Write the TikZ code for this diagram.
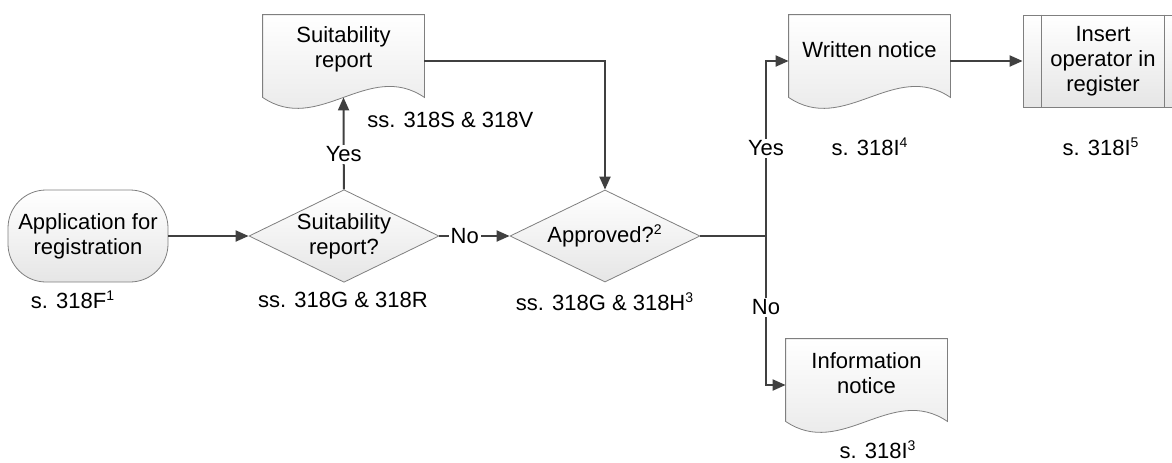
\documentclass[tikz,border=0pt]{standalone}
\usepackage{fontspec}
\setmainfont{Liberation Sans}
\usetikzlibrary{shapes.geometric,arrows.meta,calc,backgrounds}
\definecolor{linegray}{HTML}{404040}
\definecolor{edgegray}{HTML}{7F7F7F}
\tikzset{
    base/.style = {
        font      = \fontsize{11pt}{12.5pt}\selectfont,
        align     = center,
        inner sep = 0pt,
    },
    shade/.style = {
        draw         = edgegray,
        top color    = white,
        bottom color = gray!20,
    },
    terminal/.style = {
        base, shade,
        rounded corners = 19pt,
        minimum width   = 80pt,
        minimum height  = 46pt,
    },
    decision/.style = {
        base, shade, diamond,
        shape aspect   = 2,
        minimum width  = 95pt,
        minimum height = 46pt,
    },
    docbox/.style = {
        base,
        minimum width  = 80.5pt,
        minimum height = 34.5pt,
    },
    process/.style = {
        base, shade,
        minimum width  = 80pt,
        minimum height = 46pt,
    },
    note/.style   = {base},
    answer/.style = {base, fill = white, inner sep = 1pt},
    link/.style   = {draw = linegray, line width = 1pt},
    flow/.style   = {link, -{Triangle[length=6.5pt,width=5.5pt]}},
}
% outline of a document shape round a docbox node
\newcommand{\docoutline}[1]{%
  \path[shade] (#1.north west) -- (#1.north east)
    -- ($(#1.south east)+(0,13)$)
    .. controls ($(#1.south east)+(-56,-25)$) and ($(#1.south west)+(56,51)$)
    .. ($(#1.south west)+(0,13)$) -- cycle;}
% small footnote mark
\newcommand{\fmark}[1]{\textsuperscript{\fontsize{7pt}{7pt}\selectfont #1}}

\begin{document}
\begin{tikzpicture}[x=0.5pt,y=-0.5pt]
  \useasboundingbox (0,0) rectangle (1172,462);

  % Application
  \node[terminal] (App) at (88,236) {Application for\\registration};
  \node[note] (AppRef) at (73,300) {s. 318F\fmark{1}};

  % Suitability report?
  \node[decision] (Suit) at (344,236) {Suitability\\report?};
  \node[note] (SuitRef) at (343,300) {ss. 318G \& 318R};

  \node[docbox] (Report) at (343.5,49.5) {Suitability\\report};
  \node[note,anchor=west] (ReportRef) at (367,120) {ss. 318S \& 318V};
  \coordinate (ReportWave) at ($(Report.south)+(0,13)$);

  % Approved?
  \node[decision] (Appr) at (605,236) {Approved?\fmark{2}};
  \node[note] (ApprRef) at (605,302) {ss. 318G \& 318H\fmark{3}};
  \coordinate (Fork) at (766,236);

  % Notices
  \node[docbox] (Written) at (869.5,49.5) {Written notice};
  \node[note] (WrittenRef) at (870,147) {s. 318I\fmark{4}};

  \node[docbox] (Info) at (866.5,373.5) {Information\\notice};
  \node[note] (InfoRef) at (878,450) {s. 318I\fmark{3}};

  % Register
  \node[process] (Insert) at (1103,61) {Insert\\operator in\\register};
  \node[note] (InsertRef) at (1101,147) {s. 318I\fmark{5}};
  \draw[edgegray] ($(Insert.north west)+(19,0)$) -- ($(Insert.south west)+(19,0)$);
  \draw[edgegray] ($(Insert.north east)+(-19,0)$) -- ($(Insert.south east)+(-19,0)$);

  \begin{scope}[on background layer]
    \docoutline{Report}
    \docoutline{Written}
    \docoutline{Info}
  \end{scope}

  \draw[flow] (App) to (Suit);
  \draw[flow] (Suit) to node[answer,pos=0.38] {Yes} (ReportWave);
  \draw[flow] (Suit) to node[answer,pos=0.36] {No} (Appr);
  \draw[flow] ([yshift=-5.75pt]Report.east) -| (Appr.north);
  \draw[link] (Appr.east) to (Fork);
  \draw[flow] (Fork) |- node[answer,pos=0.25] {Yes} ([yshift=-5.75pt]Written.west);
  \draw[flow] (Fork) |- node[answer,pos=0.24] {No} ([yshift=-5.75pt]Info.west);
  \draw[flow] ([yshift=-5.75pt]Written.east) to (Insert.west);

\end{tikzpicture}
\end{document}
